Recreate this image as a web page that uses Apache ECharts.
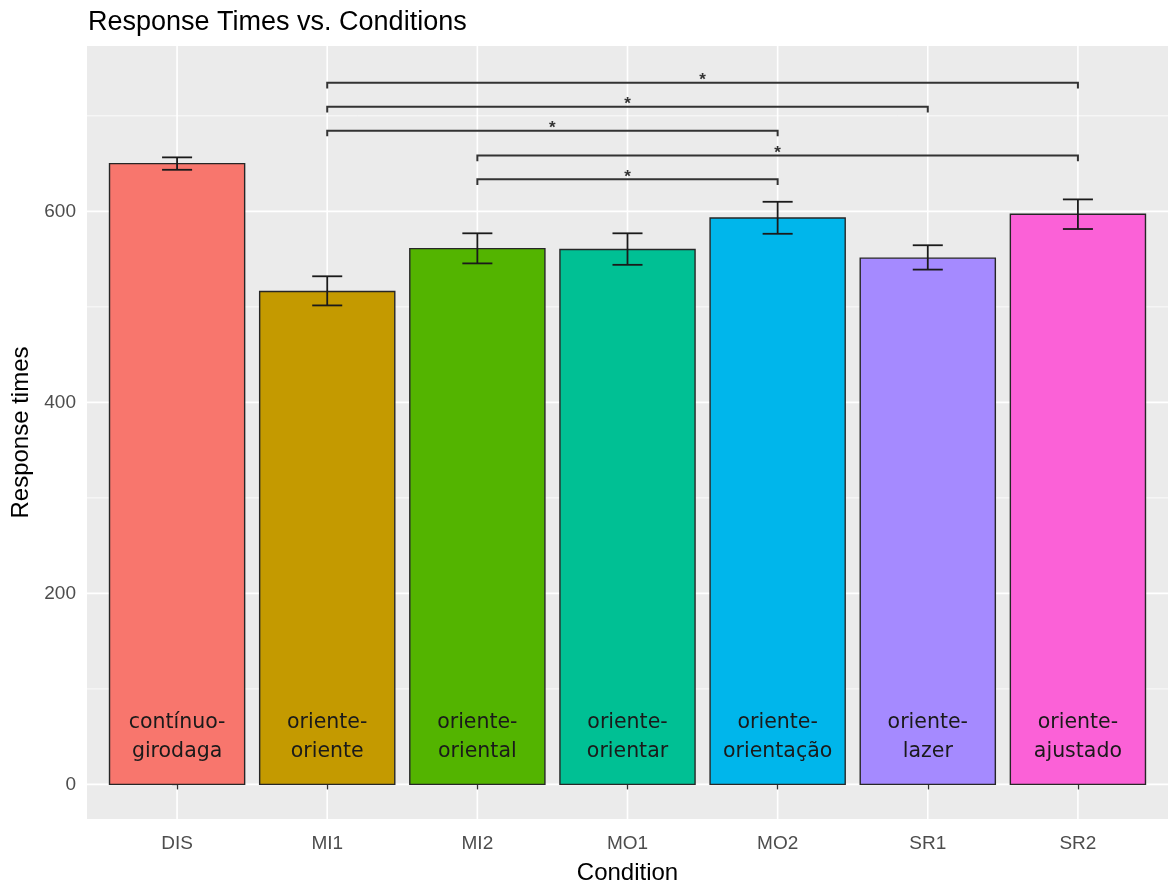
<!DOCTYPE html>
<html>
<head>
<meta charset="utf-8">
<title>Response Times vs. Conditions</title>
<script src="https://cdn.jsdelivr.net/npm/echarts@6/dist/echarts.min.js"></script>
<style>
  html, body { margin: 0; padding: 0; background: #ffffff; }
  #chart { width: 1168px; height: 890px; }
</style>
</head>
<body>
<div id="chart"></div>
<script>
// Conditions on the x axis and the word pair shown inside each bar
const categories = ['DIS', 'MI1', 'MI2', 'MO1', 'MO2', 'SR1', 'SR2'];
const barLabels = [
  'contínuo-\ngirodaga',
  'oriente-\noriente',
  'oriente-\noriental',
  'oriente-\norientar',
  'oriente-\norientação',
  'oriente-\nlazer',
  'oriente-\najustado'
];

// Mean response time per condition and the ends of its error bar
const meanRT  = [650, 516, 561, 560, 593, 551, 597];
const errLow  = [643.5, 501.5, 545.5, 544, 576.5, 539, 581.5];
const errHigh = [656.5, 532, 577, 577, 610, 564.5, 612.5];

// Fill colour per condition (default discrete hue palette)
const barColors = ['#F8766D', '#C49A00', '#53B400', '#00C094', '#00B6EB', '#A58AFF', '#FB61D7'];

// Y axis ticks
const yMajorTicks = [0, 200, 400, 600];
const yMinorTicks = [100, 300, 500, 700];

// Pairwise comparisons drawn as brackets above the bars
const bracketFrom = ['MI1', 'MI1', 'MI1', 'MI2', 'MI2'];
const bracketTo   = ['SR2', 'SR1', 'MO2', 'SR2', 'MO2'];
const bracketY    = [734.5, 709.5, 684.5, 658.5, 633.5];
const bracketSig  = ['*', '*', '*', '*', '*'];

const X_MIN = -0.6, X_MAX = categories.length - 1 + 0.6;
const Y_MIN = -36.2, Y_MAX = 773.1;
const BAR_HALF = 0.45;
const CAP_HALF = 0.1;
const TIP = 6;

const gridLineData = []
  .concat(yMajorTicks.map(v => ['h', v, 'major']))
  .concat(yMinorTicks.map(v => ['h', v, 'minor']))
  .concat(categories.map((c, i) => ['v', i, 'major']));

const barData = categories.map((c, i) => [i, meanRT[i]]);
const errData = categories.map((c, i) => [i, errLow[i], errHigh[i]]);
const bracketData = bracketFrom.map((f, k) => [
  categories.indexOf(f), categories.indexOf(bracketTo[k]), bracketY[k]
]);

const chart = echarts.init(document.getElementById('chart'), null, { renderer: 'canvas' });

const option = {
  backgroundColor: '#ffffff',
  animation: false,
  title: {
    text: 'Response Times vs. Conditions',
    left: 88,
    top: 9,
    padding: 0,
    textStyle: {
      fontFamily: 'Liberation Sans',
      fontSize: 27,
      fontWeight: 'normal',
      color: '#000000'
    }
  },
  grid: {
    left: 87,
    top: 46,
    width: 1086,
    height: 782,
    show: true,
    backgroundColor: '#EBEBEB',
    borderWidth: 0,
    containLabel: false
  },
  xAxis: {
    type: 'value',
    min: X_MIN,
    max: X_MAX,
    name: 'Condition',
    nameLocation: 'middle',
    nameGap: 42,
    nameTextStyle: { fontFamily: 'Liberation Sans', fontSize: 24, color: '#000000' },
    axisLine: { show: false },
    splitLine: { show: false },
    axisTick: {
      show: true,
      length: 5,
      customValues: categories.map((c, i) => i),
      lineStyle: { color: '#333333', width: 1.3 }
    },
    axisLabel: {
      customValues: categories.map((c, i) => i),
      formatter: v => categories[Math.round(v)],
      margin: 15,
      fontFamily: 'Liberation Sans',
      fontSize: 19,
      color: '#4D4D4D'
    }
  },
  yAxis: {
    type: 'value',
    min: Y_MIN,
    max: Y_MAX,
    name: 'Response times',
    nameLocation: 'middle',
    nameRotate: 90,
    nameGap: 46,
    nameTextStyle: { fontFamily: 'Liberation Sans', fontSize: 24, color: '#000000' },
    axisLine: { show: false },
    splitLine: { show: false },
    axisTick: {
      show: true,
      length: 5,
      customValues: yMajorTicks,
      lineStyle: { color: '#333333', width: 1.3 }
    },
    axisLabel: {
      customValues: yMajorTicks,
      margin: 11,
      fontFamily: 'Liberation Sans',
      fontSize: 19,
      color: '#4D4D4D'
    }
  },
  series: [
    {
      // panel grid lines
      type: 'custom',
      name: 'grid',
      z: 0,
      silent: true,
      data: gridLineData,
      renderItem: function (params, api) {
        const cs = params.coordSys;
        const kind = gridLineData[params.dataIndex][0];
        const v = gridLineData[params.dataIndex][1];
        const major = gridLineData[params.dataIndex][2] === 'major';
        let shape;
        if (kind === 'h') {
          const y = api.coord([0, v])[1];
          shape = { x1: cs.x, y1: y, x2: cs.x + cs.width, y2: y };
        } else {
          const x = api.coord([v, 0])[0];
          shape = { x1: x, y1: cs.y, x2: x, y2: cs.y + cs.height };
        }
        return {
          type: 'line',
          shape: shape,
          style: { stroke: '#ffffff', lineWidth: major ? 1.6 : 0.8 }
        };
      }
    },
    {
      // bars with their in-bar word labels
      type: 'custom',
      name: 'Response time',
      z: 2,
      data: barData,
      renderItem: function (params, api) {
        const i = api.value(0);
        const v = api.value(1);
        const p1 = api.coord([i - BAR_HALF, v]);
        const p2 = api.coord([i + BAR_HALF, 0]);
        const base = api.coord([i, 0]);
        return {
          type: 'group',
          children: [
            {
              type: 'rect',
              shape: { x: p1[0], y: p1[1], width: p2[0] - p1[0], height: p2[1] - p1[1] },
              style: { fill: barColors[i], stroke: '#262626', lineWidth: 1.4 }
            },
            {
              type: 'text',
              x: base[0],
              y: base[1] - 47,
              style: {
                text: barLabels[i],
                fill: '#1a1a1a',
                fontFamily: 'DejaVu Sans',
                fontSize: 20.5,
                lineHeight: 29,
                align: 'center',
                verticalAlign: 'middle'
              }
            }
          ]
        };
      }
    },
    {
      // error bars
      type: 'custom',
      name: 'error',
      z: 3,
      data: errData,
      renderItem: function (params, api) {
        const i = api.value(0);
        const lo = api.coord([i, api.value(1)]);
        const hi = api.coord([i, api.value(2)]);
        const l = api.coord([i - CAP_HALF, 0])[0];
        const r = api.coord([i + CAP_HALF, 0])[0];
        const st = { stroke: '#1a1a1a', lineWidth: 1.8 };
        return {
          type: 'group',
          children: [
            { type: 'line', shape: { x1: lo[0], y1: lo[1], x2: hi[0], y2: hi[1] }, style: st },
            { type: 'line', shape: { x1: l, y1: lo[1], x2: r, y2: lo[1] }, style: st },
            { type: 'line', shape: { x1: l, y1: hi[1], x2: r, y2: hi[1] }, style: st }
          ]
        };
      }
    },
    {
      // significance brackets
      type: 'custom',
      name: 'comparisons',
      z: 3,
      data: bracketData,
      renderItem: function (params, api) {
        const a = api.value(0);
        const b = api.value(1);
        const y = api.value(2);
        const pa = api.coord([a, y]);
        const pb = api.coord([b, y]);
        const ta = api.coord([a, y - TIP]);
        const mid = api.coord([(a + b) / 2, y]);
        return {
          type: 'group',
          children: [
            {
              type: 'polyline',
              shape: { points: [[pa[0], ta[1]], pa, pb, [pb[0], ta[1]]] },
              style: { stroke: '#333333', lineWidth: 2, fill: null }
            },
            {
              type: 'text',
              x: mid[0],
              y: mid[1] + 6,
              style: {
                text: bracketSig[params.dataIndex],
                fill: '#333333',
                fontFamily: 'Liberation Sans',
                fontSize: 17,
                fontWeight: 'bold',
                align: 'center',
                verticalAlign: 'bottom'
              }
            }
          ]
        };
      }
    }
  ]
};

chart.setOption(option);
</script>
</body>
</html>
